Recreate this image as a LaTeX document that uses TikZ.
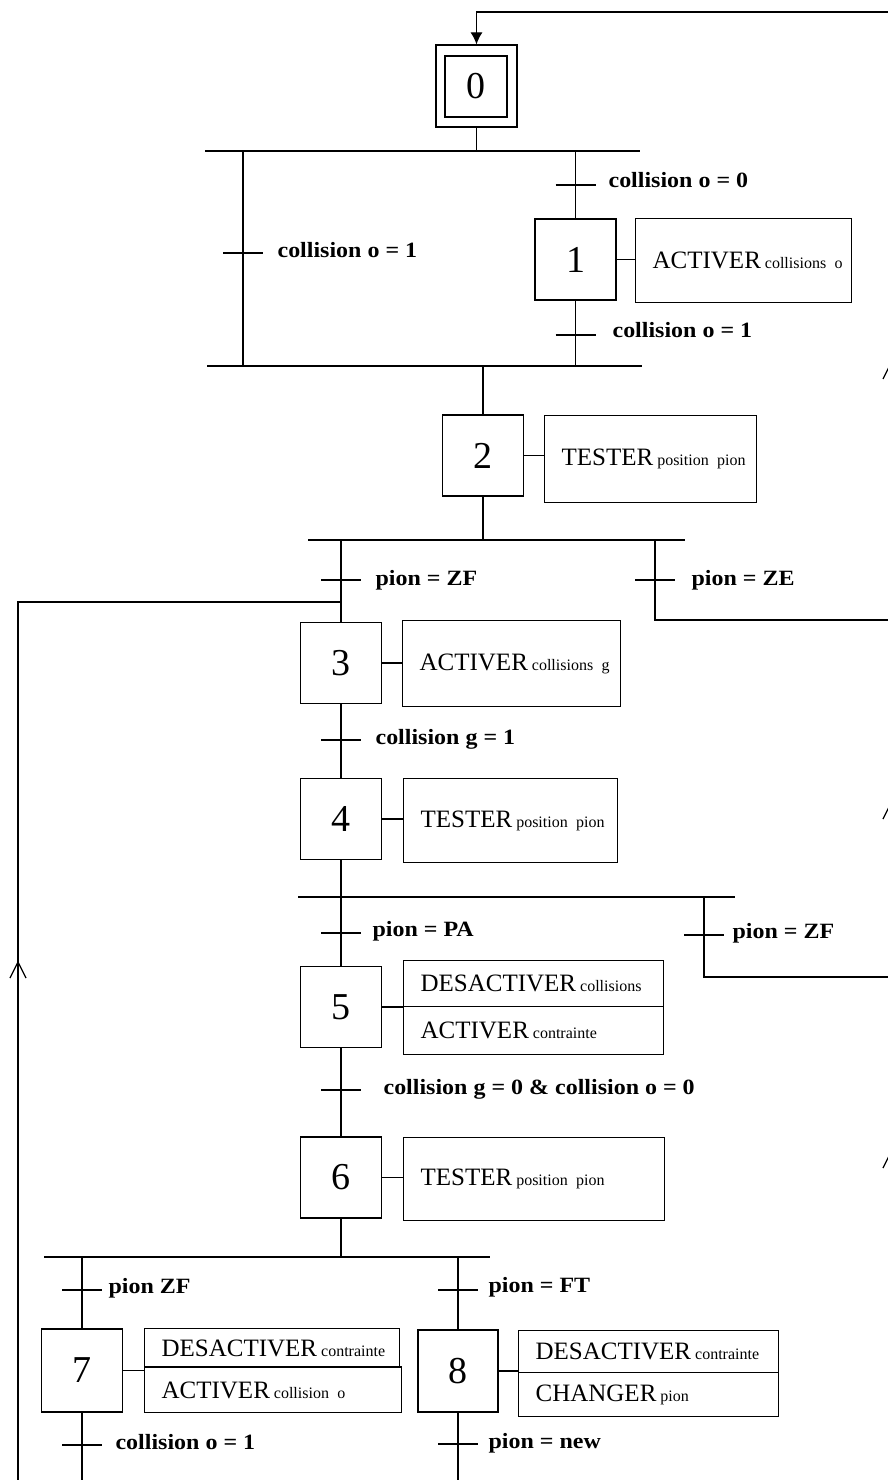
\documentclass[tikz,border=0pt]{standalone}
\usepackage{fontspec}
\setmainfont{Liberation Serif}
\newfontfamily\lblfam[FakeStretch=1.1]{Liberation Serif}
\usetikzlibrary{arrows.meta}
\newcommand\numfont{\fontsize{38}{38}\selectfont}
\newcommand\actfont{\fontsize{25}{25}\selectfont}
\newcommand\subfont{\fontsize{16}{16}\selectfont}
\newcommand\lblfont{\lblfam\bfseries\fontsize{21.8}{21.8}\selectfont}
\newcommand\gtick[1]{\draw ([xshift=-20pt]#1) -- ([xshift=20pt]#1);}
\newcommand\uparr[1]{\draw ([shift={(-8,16)}]#1) -- (#1) -- ([shift={(8,16)}]#1);}
\newcommand\acttext[2]{\mbox{#1\hspace{4pt}{\subfont #2}}}
\begin{document}
\begin{tikzpicture}[x=1pt,y=-1pt,line width=1.2pt,
  stepbox/.style={draw, minimum width=81pt, minimum height=81pt, inner sep=0pt, font=\numfont},
  actbox/.style n args={2}{draw, anchor=north west, text width=#1, minimum height=#2,
     inner xsep=17pt, inner ysep=0pt, align=left, font=\actfont},
  lbl/.style={anchor=base west, inner sep=0pt, font=\lblfont}]
\useasboundingbox (0,0) rectangle (888,1480);
\fill[white] (0,0) rectangle (888,1480);

% ---------- step 0 ----------
\node[draw, minimum width=81pt, minimum height=82pt, inner sep=0pt] (s0o) at (476.5,86) {};
\node[draw, minimum width=62pt, minimum height=61pt, inner sep=0pt, font=\numfont] (s0) at (476,86.5) {0};

% return line on the right
\coordinate (rtop) at (891,12);
\coordinate (rbot) at (891,1490);
\draw (rbot) -- (rtop);
\draw[-{Latex[length=12pt,width=12pt]}] (rtop) -- (rtop -| s0o.north) -- (s0o.north);
\coordinate (ra1) at (891,363); \uparr{ra1}
\coordinate (ra2) at (891,803); \uparr{ra2}
\coordinate (ra3) at (891,1152); \uparr{ra3}

% ---------- first OR divergence ----------
\coordinate (d1l) at (205,151); \coordinate (d1r) at (640,151);
\coordinate (d2l) at (207,366); \coordinate (d2r) at (642,366);
\draw (d1l) -- (d1r);
\draw (d2l) -- (d2r);
\draw (s0o.south) -- (s0o.south |- d1l);
\coordinate (bl1) at (243,151); \coordinate (bl2) at (243,366);
\draw (bl1) -- (bl2);
\coordinate (t1) at (243,253); \gtick{t1}
\node[lbl] (l1) at (277,257) {collision o = 1};

\node[stepbox] (s1) at (575.5,259.5) {1};
\draw (s1.north |- d1l) -- (s1.north);
\draw (s1.south) -- (s1.south |- d2l);
\coordinate (t2) at (575.5,185); \gtick{t2}
\node[lbl] (l2) at (608,187) {collision o = 0};
\coordinate (t3) at (575.5,335); \gtick{t3}
\node[lbl] (l3) at (612,337) {collision o = 1};
\node[actbox={182pt}{84pt}] (a1) at (635,218) {\acttext{ACTIVER}{collisions o}};
\draw (s1.east) -- (s1.east -| a1.west);

% ---------- step 2 ----------
\node[stepbox] (s2) at (483,455.5) {2};
\draw (s2.north |- d2l) -- (s2.north);
\node[actbox={178pt}{87pt}] (a2) at (544,415) {\acttext{TESTER}{position pion}};
\draw (s2.east) -- (s2.east -| a2.west);
\coordinate (d3l) at (308,540); \coordinate (d3r) at (685,540);
\draw (d3l) -- (d3r);
\draw (s2.south) -- (s2.south |- d3l);

% ---------- step 3 ----------
\node[stepbox] (s3) at (341,663) {3};
\draw (s3.north |- d3l) -- (s3.north);
\coordinate (t4) at (341,580); \gtick{t4}
\node[lbl] (l4) at (375,585) {pion = ZF};
% loop back on the left
\coordinate (lj) at (341,602); \coordinate (lb) at (18,1490);
\draw (lj) -- (lj -| lb) -- (lb);
\coordinate (la) at (18,962); \uparr{la}
% branch pion = ZE
\coordinate (ze) at (655,540); \coordinate (zeb) at (655,620);
\draw (ze) -- (zeb) -- (zeb -| rtop);
\coordinate (t5) at (655,580); \gtick{t5}
\node[lbl] (l5) at (691,585) {pion = ZE};
\node[actbox={184pt}{86pt}] (a3) at (402,620) {\acttext{ACTIVER}{collisions g}};
\draw (s3.east) -- (s3.east -| a3.west);

% ---------- step 4 ----------
\node[stepbox] (s4) at (341,819) {4};
\draw (s3.south) -- (s4.north);
\coordinate (t6) at (341,740); \gtick{t6}
\node[lbl] (l6) at (375,744) {collision g = 1};
\node[actbox={180pt}{84pt}] (a4) at (403,778) {\acttext{TESTER}{position pion}};
\draw (s4.east) -- (s4.east -| a4.west);
\coordinate (d4l) at (298,897); \coordinate (d4r) at (735,897);
\draw (d4l) -- (d4r);
\draw (s4.south) -- (s4.south |- d4l);

% ---------- step 5 ----------
\node[stepbox] (s5) at (341,1007) {5};
\draw (s5.north |- d4l) -- (s5.north);
\coordinate (t7) at (341,933); \gtick{t7}
\node[lbl] (l7) at (372,936) {pion = PA};
\coordinate (zf) at (704,897); \coordinate (zfb) at (704,977);
\draw (zf) -- (zfb) -- (zfb -| rtop);
\coordinate (t8) at (704,935); \gtick{t8}
\node[lbl] (l8) at (732,938) {pion = ZF};
\node[actbox={226pt}{46pt}] (a5t) at (403,960) {\acttext{DESACTIVER}{collisions}};
\node[actbox={226pt}{48pt}] (a5b) at (403,1006) {\acttext{ACTIVER}{contrainte}};
\draw (s5.east) -- (s5.east -| a5t.west);

% ---------- step 6 ----------
\node[stepbox] (s6) at (341,1177.5) {6};
\draw (s5.south) -- (s6.north);
\coordinate (t9) at (341,1090); \gtick{t9}
\node[lbl] (l9) at (383,1094) {collision g = 0 \& collision o = 0};
\node[actbox={227pt}{83pt}] (a6) at (403,1137) {\acttext{TESTER}{position pion}};
\draw (s6.east) -- (s6.east -| a6.west);
\coordinate (d5l) at (44,1257); \coordinate (d5r) at (490,1257);
\draw (d5l) -- (d5r);
\draw (s6.south) -- (s6.south |- d5l);

% ---------- step 7 ----------
\node[stepbox, minimum height=83pt] (s7) at (82,1370.5) {7};
\draw (s7.north |- d5l) -- (s7.north);
\coordinate (t10) at (82,1290); \gtick{t10}
\node[lbl] (l10) at (108,1293) {pion ZF};
\node[actbox={221pt}{39pt}] (a7t) at (144,1328) {\acttext{DESACTIVER}{contrainte}};
\node[actbox={223pt}{45pt}] (a7b) at (144,1367) {\acttext{ACTIVER}{collision o}};
\draw[line width=2pt] (a7b.north west) -- (a7b.north east);
\draw (s7.east) -- (s7.east -| a7t.west);
\coordinate (e7) at (82,1490);
\draw (s7.south) -- (e7);
\coordinate (t12) at (82,1445); \gtick{t12}
\node[lbl] (l12) at (115,1449) {collision o = 1};

% ---------- step 8 ----------
\node[stepbox, minimum width=80pt, minimum height=82pt] (s8) at (458,1371) {8};
\draw (s8.north |- d5l) -- (s8.north);
\coordinate (t11) at (458,1290); \gtick{t11}
\node[lbl] (l11) at (488,1292) {pion = FT};
\node[actbox={226pt}{42pt}] (a8t) at (518,1330) {\acttext{DESACTIVER}{contrainte}};
\node[actbox={226pt}{44pt}] (a8b) at (518,1372) {\acttext{CHANGER}{pion}};
\draw (s8.east) -- (s8.east -| a8t.west);
\coordinate (e8) at (458,1490);
\draw (s8.south) -- (e8);
\coordinate (t13) at (458,1444); \gtick{t13}
\node[lbl] (l13) at (488,1448) {pion = new};
\end{tikzpicture}
\end{document}
